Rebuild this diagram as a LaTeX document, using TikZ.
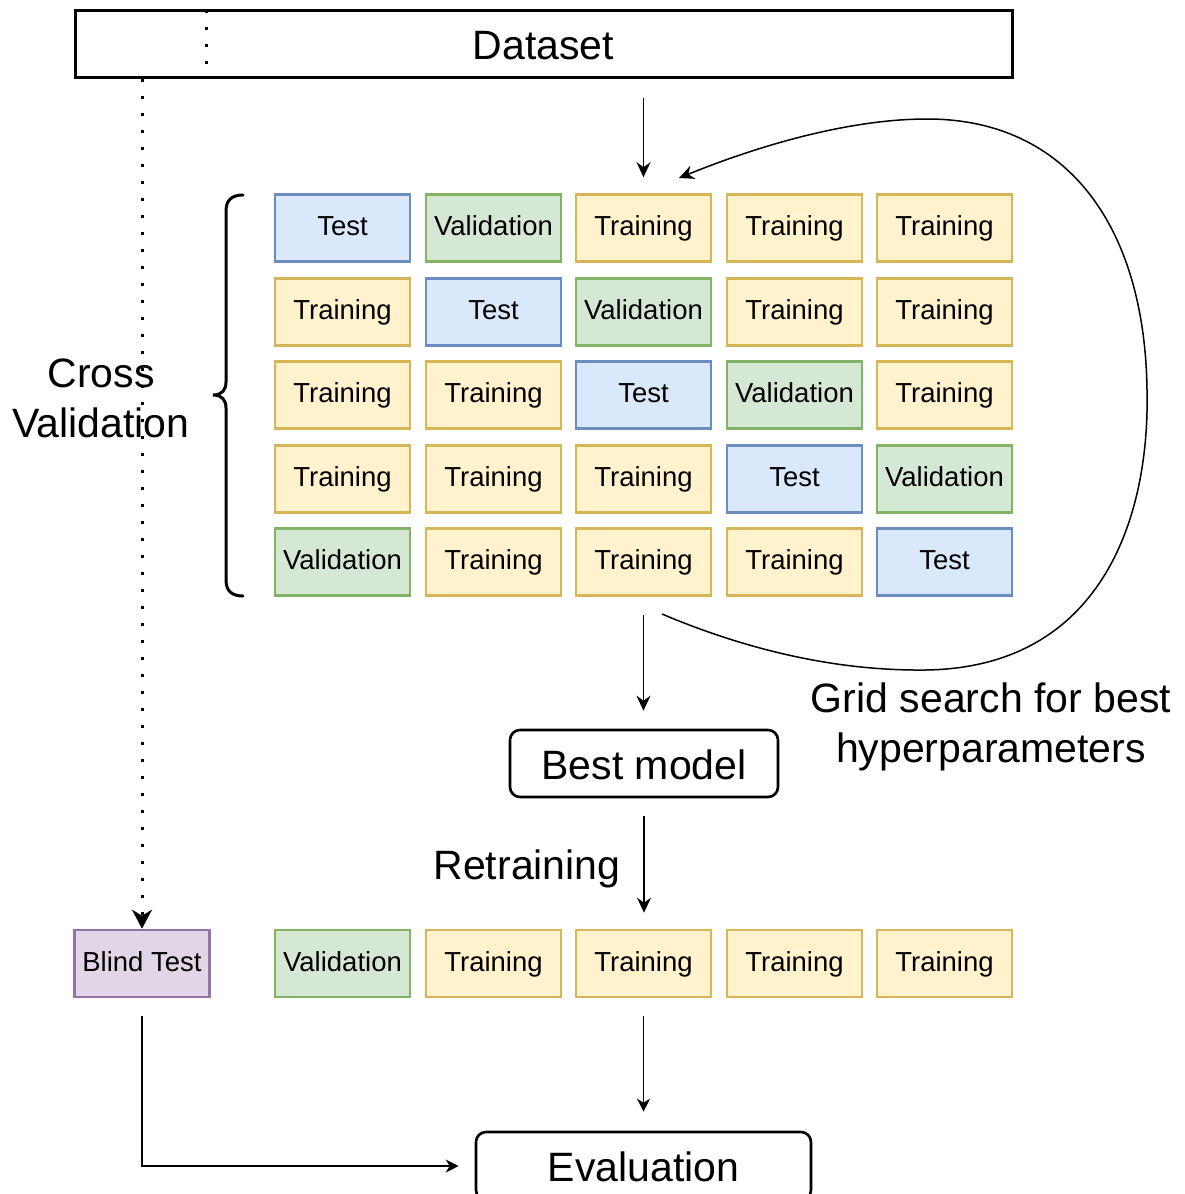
\documentclass[tikz,border=0pt]{standalone}
\usepackage{fontspec}
\setmainfont{Liberation Sans}
\usetikzlibrary{arrows.meta,calc}

\definecolor{blueF}{HTML}{DAE8FC}\definecolor{blueD}{HTML}{6C8EBF}
\definecolor{greenF}{HTML}{D5E8D4}\definecolor{greenD}{HTML}{82B366}
\definecolor{yellowF}{HTML}{FFF2CC}\definecolor{yellowD}{HTML}{D6B656}
\definecolor{purpleF}{HTML}{E1D5E7}\definecolor{purpleD}{HTML}{9673A6}

\tikzset{
  small/.style={font=\fontsize{27.5}{33}\selectfont},
  big/.style={font=\fontsize{41}{50}\selectfont},
  fold/.style={draw, line width=2.6pt, minimum width=135pt, minimum height=67pt,
               inner sep=0pt, text height=15.5pt, text depth=0pt, small},
  tst/.style={fold, fill=blueF, draw=blueD},
  val/.style={fold, fill=greenF, draw=greenD},
  trn/.style={fold, fill=yellowF, draw=yellowD},
  blind/.style={fold, fill=purpleF, draw=purpleD},
  stage/.style={draw, line width=2.6pt, rounded corners=10pt, inner sep=0pt,
               text height=31pt, text depth=0pt, big},
  arr/.style={line width=1.5pt, -{Stealth[length=15pt,width=14pt,inset=5pt]}},
  arrs/.style={line width=1.3pt, -{Stealth[length=13pt,width=13pt,inset=4pt]}},
  dots/.style={line width=3pt, dash pattern=on 3pt off 14pt},
  label/.style={big, align=center, inner sep=0pt, text height=28.5pt, text depth=0pt},
}

\begin{document}
\begin{tikzpicture}[x=1pt, y=-1pt]
\useasboundingbox (0,0) rectangle (1185,1194);

% whole dataset
\node[draw, line width=3pt, minimum width=937pt, minimum height=67pt, inner sep=0pt,
      text height=31pt, text depth=0pt, big] (data) at (543.5,43.5) {Dataset};
\coordinate (cut) at (206,0);
\draw[dots, dash phase=-1pt] (data.north -| cut) -- (data.south -| cut);

% five cross-validation folds
\node[tst] (c11) at (342.5,228) {Test};
\node[val] (c12) at (493.5,228) {Validation};
\node[trn] (c13) at (643.5,228) {Training};
\node[trn] (c14) at (794.5,228) {Training};
\node[trn] (c15) at (944.5,228) {Training};

\node[trn] (c21) at (342.5,312) {Training};
\node[tst] (c22) at (493.5,312) {Test};
\node[val] (c23) at (643.5,312) {Validation};
\node[trn] (c24) at (794.5,312) {Training};
\node[trn] (c25) at (944.5,312) {Training};

\node[trn] (c31) at (342.5,395) {Training};
\node[trn] (c32) at (493.5,395) {Training};
\node[tst] (c33) at (643.5,395) {Test};
\node[val] (c34) at (794.5,395) {Validation};
\node[trn] (c35) at (944.5,395) {Training};

\node[trn] (c41) at (342.5,479) {Training};
\node[trn] (c42) at (493.5,479) {Training};
\node[trn] (c43) at (643.5,479) {Training};
\node[tst] (c44) at (794.5,479) {Test};
\node[val] (c45) at (944.5,479) {Validation};

\node[val] (c51) at (342.5,562) {Validation};
\node[trn] (c52) at (493.5,562) {Training};
\node[trn] (c53) at (643.5,562) {Training};
\node[trn] (c54) at (794.5,562) {Training};
\node[tst] (c55) at (944.5,562) {Test};

% brace and its label
\draw[line width=3pt, line cap=round]
  (243,195) .. controls (232,195) and (226,200) .. (226,211) -- (226,382)
  .. controls (226,390) and (222,395) .. (213,395)
  .. controls (222,395) and (226,400) .. (226,408) -- (226,580)
  .. controls (226,591) and (232,596) .. (243,596);
\node[label] (cv) at (101,373) {Cross};
\node[label] (cv2) at (101,423) {Validation};

% best model and final split
\node[stage, minimum width=268pt, minimum height=67pt] (best) at (644,763.5) {Best model};
\node[label] (retr) at (527,865) {Retraining};

\node[blind] (bt) at (142,963.5) {Blind Test};
\node[val] (f1) at (342.5,963.5) {Validation};
\node[trn] (f2) at (493.5,963.5) {Training};
\node[trn] (f3) at (643.5,963.5) {Training};
\node[trn] (f4) at (794.5,963.5) {Training};
\node[trn] (f5) at (944.5,963.5) {Training};

\node[stage, minimum width=335pt, minimum height=68pt] (eval) at (643.5,1166) {Evaluation};

% grid search loop
\node[label] (gs) at (991,698) {Grid search for best};
\node[label] (gs2) at (991,748) {hyperparameters};
\coordinate (loopS) at (662,614);
\coordinate (loopE) at (679,178);
\draw[arr]
  (loopS) .. controls (740,647) and (830,671) .. (925,670)
  .. controls (1100,668) and (1150,520) .. (1147,390)
  .. controls (1145,230) and (1070,119) .. (927,119)
  .. controls (850,119) and (760,145) .. (loopE);

% flow arrows
\draw[arr, shorten <=19pt, shorten >=16pt] (data.south -| c13.north) -- (c13.north);
\draw[arr, shorten <=18pt, shorten >=18pt] (c53.south) -- (best.north -| c53.south);
\draw[arr, shorten <=18pt, shorten >=16pt] (best.south) -- (f3.north -| best.south);
\draw[arrs, shorten <=18pt, shorten >=19pt] (f3.south) -- (eval.north -| f3.south);
\draw[arrs, shorten <=18pt, shorten >=16pt] (bt.south) |- (eval.west);
\draw[dots, -{Stealth[length=19pt,width=20pt,inset=6pt]}] (data.south -| bt.north) -- (bt.north);
\end{tikzpicture}
\end{document}
